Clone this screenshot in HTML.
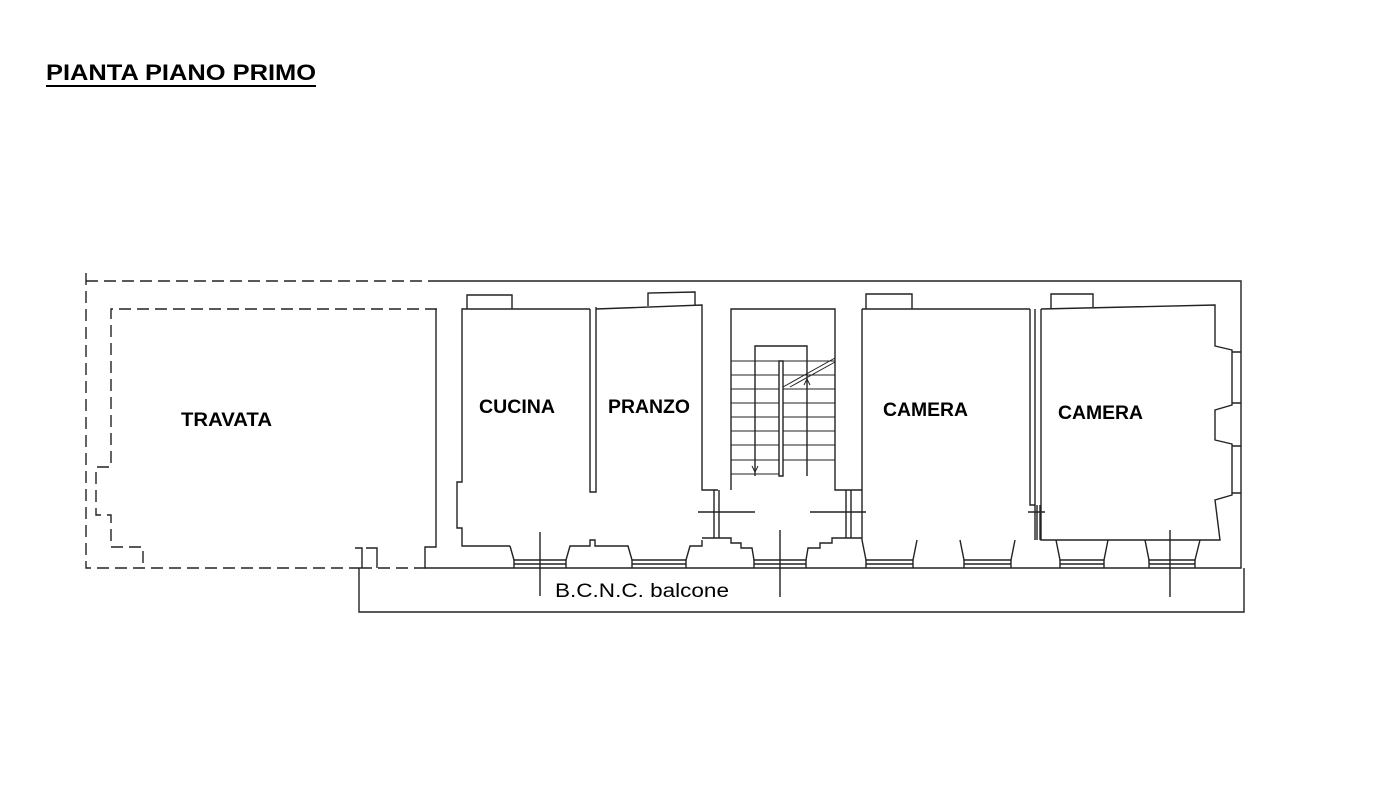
<!DOCTYPE html><html><head><style>
body{margin:0;background:#fff;width:1400px;height:788px;overflow:hidden}
svg text{font-family:"Liberation Sans",sans-serif}
</style></head><body>
<svg width="1400" height="788" viewBox="0 0 1400 788" xmlns="http://www.w3.org/2000/svg">
<text x="46" y="80" font-size="22" font-weight="bold" fill="#000" textLength="270" lengthAdjust="spacingAndGlyphs">PIANTA PIANO PRIMO</text>
<line x1="46" y1="86" x2="316" y2="86" stroke="#000" stroke-width="2"/>
<g fill="none" stroke="#222" stroke-width="1.4">
<g stroke-dasharray="12,6">
<path d="M86 273 V568 H360"/>
<path d="M86 281 H430"/>
<path d="M437 309 H111 V467 H96 V515 H111 V547 H143 V568"/>
<path d="M360 568 H425"/>
</g>
<path d="M430 281 H1241 V568 H425 V547 H436 V309"/>
<path d="M355 548 H362 V568 M366 548 H377 V568"/>
<path d="M359 568 V612 H1244 V568"/>
<path d="M467 309 V295 H512 V309"/>
<path d="M590 309 H462 V482 H457 V528 H462 V546 H510"/>
<path d="M590 309 V492 H596 V307"/>
<path d="M596 309 L702 305 V490 H718"/>
<path d="M648 306 V293 L695 292 V305"/>
<path d="M510 546 L514 560 H566 L570 546 H590 V540 H595 V546 H628 L632 560 H686 L690 546 H702 V540"/>
<path d="M514 560 V568 M566 560 V568 M632 560 V568 M686 560 V568 M514 564 H566 M632 564 H686"/>
<line x1="540" y1="532" x2="540" y2="596"/>
<path d="M714 490 V538 M719 490 V538 M698 512 H755"/>
<path d="M702 538 H731 V543 H741 V548 H752 L754 560 H806 L808 548 H820 V543 H832 V538 H862"/>
<path d="M754 560 V568 M806 560 V568 M754 564 H806"/>
<line x1="780" y1="530" x2="780" y2="597"/>
<path d="M731 490 V309 H835 V490 H862"/>
<path d="M755 476 V346 H807 V476"/>
<path d="M779 361 V476 H783 V361 Z"/>
<g stroke-width="1">
<path d="M731 361 H835 M731 375 H779 M783 375 H835 M731 389 H779 M783 389 H835 M731 403 H779 M783 403 H835 M731 417 H779 M783 417 H835 M731 431 H779 M783 431 H835 M731 445 H779 M783 445 H835 M731 460 H779 M783 460 H835 M731 474 H779"/>
<path d="M783 387 L835 358 M790 387 L835 362"/>
<path d="M755 462 V472 M752 466 L755 472 L758 466 M807 388 V380 M804 385 L807 379 L810 385"/>
</g>
<path d="M846 490 V538 M851 490 V538 M810 512 H866"/>
<path d="M862 309 H1030 M862 309 V540 M866 309 V294 H912 V309"/>
<path d="M1030 309 V505 H1035 V540 M1035 505 V309"/>
<path d="M1028 512 H1045 M1037 505 V540 M1040 505 V540"/>
<path d="M1041 309 L1215 305 V346 L1232 350 V405 L1215 410 V440 L1232 444 V495 L1215 500 L1220 540 H1041 V309"/>
<path d="M1051 308 V294 H1093 V307"/>
<path d="M1232 352 H1241 M1232 403 H1241 M1232 446 H1241 M1232 493 H1241"/>
<path d="M862 540 L866 560 H913 L917 540 M960 540 L964 560 H1011 L1015 540 M1056 540 L1060 560 H1104 L1108 540 M1145 540 L1149 560 H1195 L1200 540"/>
<path d="M866 560 V568 M913 560 V568 M964 560 V568 M1011 560 V568 M1060 560 V568 M1104 560 V568 M1149 560 V568 M1195 560 V568 M866 564 H913 M964 564 H1011 M1060 564 H1104 M1149 564 H1195"/>
<line x1="1170" y1="530" x2="1170" y2="597"/>
</g>
<g font-size="19" font-weight="bold" fill="#000">
<text x="181" y="426" textLength="91" lengthAdjust="spacingAndGlyphs">TRAVATA</text>
<text x="479" y="413" textLength="76" lengthAdjust="spacingAndGlyphs">CUCINA</text>
<text x="608" y="413" textLength="82" lengthAdjust="spacingAndGlyphs">PRANZO</text>
<text x="883" y="416" textLength="85" lengthAdjust="spacingAndGlyphs">CAMERA</text>
<text x="1058" y="419" textLength="85" lengthAdjust="spacingAndGlyphs">CAMERA</text>
</g>
<text x="555" y="597" font-size="19" fill="#000" textLength="174" lengthAdjust="spacingAndGlyphs">B.C.N.C. balcone</text>
</svg>
</body></html>
